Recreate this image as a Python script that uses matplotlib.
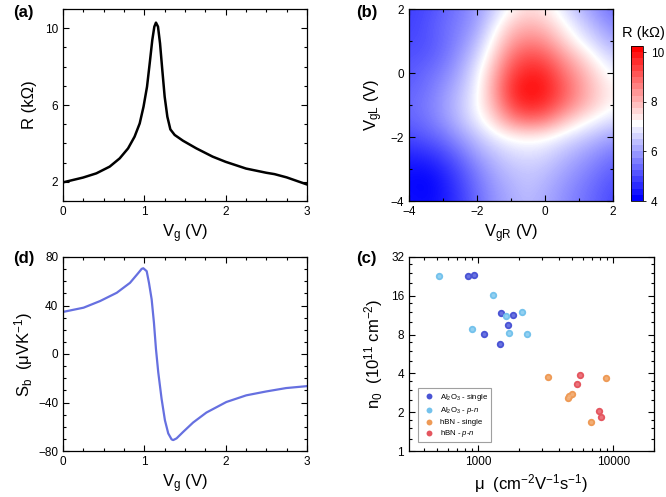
import numpy as np
import matplotlib
matplotlib.use("Agg")
import matplotlib.pyplot as plt
from matplotlib.colors import BoundaryNorm, Normalize
from matplotlib.cm import ScalarMappable
from matplotlib.ticker import MultipleLocator, LogLocator, FixedLocator, NullFormatter

plt.rcParams['font.family'] = ['Liberation Sans', 'DejaVu Sans']
plt.rcParams['mathtext.fontset'] = 'custom'
plt.rcParams['mathtext.rm'] = 'Liberation Sans'
plt.rcParams['mathtext.it'] = 'Liberation Sans:italic'
plt.rcParams['mathtext.bf'] = 'Liberation Sans:bold'

# (a) resistance vs gate voltage
vg_a = [0.0, 0.246, 0.41, 0.574, 0.697, 0.80, 0.88, 0.943, 0.99, 1.033, 1.066,
        1.098, 1.123, 1.143, 1.168, 1.193, 1.221, 1.25, 1.283, 1.32, 1.373,
        1.475, 1.64, 1.84, 2.0, 2.25, 2.5, 2.6, 2.75, 3.0]
r_a = [1.97, 2.22, 2.44, 2.79, 3.22, 3.74, 4.35, 5.04, 5.91, 6.95, 8.17,
       9.39, 10.08, 10.29, 10.08, 9.21, 7.82, 6.43, 5.39, 4.73, 4.44,
       4.14, 3.74, 3.31, 3.04, 2.69, 2.47, 2.40, 2.23, 1.86]

# (d) thermopower vs gate voltage
vg_d = [0.0, 0.253, 0.457, 0.661, 0.824, 0.927, 0.967, 0.988, 1.029, 1.057, 1.09,
        1.118, 1.143, 1.171, 1.212, 1.253, 1.294, 1.335, 1.355, 1.396, 1.478,
        1.6, 1.763, 2.008, 2.253, 2.498, 2.743, 3.0]
sb_d = [34.7, 38.2, 43.7, 50.5, 58.7, 66.9, 70.2, 70.7, 68.3, 58.7, 45.1,
        25.9, 4.1, -15.0, -36.9, -54.6, -65.5, -70.4, -71.0, -69.6, -64.2,
        -56.5, -48.3, -39.6, -34.1, -30.9, -28.1, -26.5]

# (b) resistance map, rows VgL = 2 ... -4, columns VgR = -4 ... 2 (step 0.5)
r_map = np.array([
    [4.8, 4.9, 5.2, 5.5, 5.9, 6.5, 7.2, 7.6, 7.4, 6.9, 6.3, 5.8, 5.4],
    [4.8, 5.0, 5.3, 5.6, 6.0, 6.9, 7.8, 8.1, 7.9, 7.3, 6.7, 6.2, 5.7],
    [4.9, 5.0, 5.3, 5.7, 6.3, 7.3, 8.3, 8.7, 8.5, 7.8, 7.1, 6.6, 6.1],
    [5.0, 5.1, 5.4, 5.9, 6.6, 7.7, 8.9, 9.4, 9.2, 8.5, 7.8, 7.1, 6.6],
    [5.1, 5.3, 5.6, 6.1, 6.9, 8.1, 9.4, 9.9, 9.8, 9.0, 8.3, 7.6, 7.0],
    [5.2, 5.4, 5.8, 6.3, 7.0, 8.3, 9.7, 10.2, 10.0, 9.3, 8.5, 7.8, 7.3],
    [5.3, 5.5, 5.9, 6.4, 7.1, 8.1, 9.4, 9.9, 9.7, 9.0, 8.3, 7.7, 7.2],
    [5.2, 5.4, 5.8, 6.3, 6.9, 7.6, 8.5, 8.9, 8.7, 8.0, 7.4, 7.0, 6.7],
    [4.9, 5.1, 5.4, 5.9, 6.4, 6.9, 7.2, 7.3, 7.2, 6.9, 6.6, 6.3, 6.0],
    [4.5, 4.6, 4.9, 5.4, 6.0, 6.4, 6.7, 6.8, 6.7, 6.4, 6.1, 5.8, 5.5],
    [4.2, 4.2, 4.5, 5.0, 5.6, 6.1, 6.4, 6.5, 6.4, 6.1, 5.8, 5.5, 5.2],
    [4.1, 4.0, 4.3, 4.8, 5.4, 5.9, 6.2, 6.4, 6.2, 5.9, 5.6, 5.3, 5.0],
    [4.2, 4.1, 4.3, 4.7, 5.3, 5.8, 6.1, 6.3, 6.1, 5.8, 5.5, 5.2, 4.9],
])

# (c) residual density vs mobility
mu_al_single = [845, 930, 1482, 1833, 1658, 1119, 1465]
n0_al_single = [22.6, 23.0, 11.7, 11.3, 9.5, 8.05, 6.77]
mu_al_pn = [513, 1287, 2123, 1621, 909, 1694, 2321]
n0_al_pn = [22.9, 16.1, 11.9, 11.1, 8.86, 8.19, 8.1]
mu_hbn_single = [3290, 8890, 4954, 4741, 4658, 6822]
n0_hbn_single = [3.77, 3.66, 2.79, 2.68, 2.57, 1.67]
mu_hbn_pn = [5700, 5390, 7906, 8078]
n0_hbn_pn = [3.88, 3.30, 2.06, 1.83]

W, H = 666, 497
fig = plt.figure(figsize=(W / 100, H / 100), dpi=100)


def box(l, t, r, b):
    return [l / W, 1 - b / H, (r - l) / W, (b - t) / H]


def style(ax):
    ax.tick_params(which='both', direction='in', top=True, right=True,
                   labelsize=8.5, width=0.8)
    ax.tick_params(which='major', length=4)
    ax.tick_params(which='minor', length=2)
    for s in ax.spines.values():
        s.set_linewidth(0.9)


lab_fs = 12

# (a)
ax_a = fig.add_axes(box(63, 9, 307, 201))
ax_a.plot(vg_a, r_a, color='black', lw=1.8, solid_joinstyle='round')
ax_a.set_xlim(0, 3)
ax_a.set_ylim(1, 11)
ax_a.xaxis.set_major_locator(MultipleLocator(1))
ax_a.xaxis.set_minor_locator(MultipleLocator(0.25))
ax_a.yaxis.set_major_locator(FixedLocator([2, 6, 10]))
ax_a.yaxis.set_minor_locator(MultipleLocator(1))
style(ax_a)
ax_a.set_xlabel(r'V$_\mathrm{g}$ (V)', fontsize=lab_fs, labelpad=3)
ax_a.set_ylabel('R (kΩ)', fontsize=lab_fs, labelpad=6)

# (b) smooth map, banded colour scale on the bar
ax_b = fig.add_axes(box(409, 9, 613, 201))
ax_b.imshow(r_map, cmap='bwr', norm=Normalize(4, 10.3), interpolation='bicubic',
            extent=[-4.25, 2.25, -4.25, 2.25], origin='upper', aspect='auto')
ax_b.set_xlim(-4, 2)
ax_b.set_ylim(-4, 2)
ax_b.xaxis.set_major_locator(MultipleLocator(2))
ax_b.xaxis.set_minor_locator(MultipleLocator(1))
ax_b.yaxis.set_major_locator(MultipleLocator(2))
ax_b.yaxis.set_minor_locator(MultipleLocator(1))
style(ax_b)
ax_b.set_xlabel(r'V$_\mathrm{gR}$ (V)', fontsize=lab_fs, labelpad=3)
ax_b.set_ylabel(r'V$_\mathrm{gL}$ (V)', fontsize=lab_fs, labelpad=4)

levels = np.arange(4, 10.36, 0.25)
sm = ScalarMappable(norm=BoundaryNorm(levels, ncolors=256), cmap='bwr')
cax = fig.add_axes(box(631, 46, 643, 201))
cb = fig.colorbar(sm, cax=cax, ticks=[4, 6, 8, 10])
cb.outline.set_linewidth(0.6)
cax.tick_params(labelsize=8.5, length=2, width=0.6)
cb.ax.minorticks_off()
fig.text(643 / W, 1 - 33 / H, 'R (kΩ)', fontsize=10.5, ha='center', va='center')

# (d)
ax_d = fig.add_axes(box(63, 257, 307, 451))
ax_d.plot(vg_d, sb_d, color='#6670e0', lw=1.6, solid_joinstyle='round')
ax_d.set_xlim(0, 3)
ax_d.set_ylim(-80, 80)
ax_d.xaxis.set_major_locator(MultipleLocator(1))
ax_d.xaxis.set_minor_locator(MultipleLocator(0.25))
ax_d.yaxis.set_major_locator(MultipleLocator(40))
ax_d.yaxis.set_minor_locator(MultipleLocator(10))
style(ax_d)
ax_d.set_xlabel(r'V$_\mathrm{g}$ (V)', fontsize=lab_fs, labelpad=3)
ax_d.set_ylabel(r'S$_\mathrm{b}$  (μVK$^{-1}$)', fontsize=lab_fs, labelpad=2)

# (c)
ax_c = fig.add_axes(box(409, 257, 654, 451))
groups = [
    (mu_al_single, n0_al_single, '#4a54d4', '#7f88ea', r'Al$_\mathrm{2}$O$_\mathrm{3}$ - single'),
    (mu_al_pn, n0_al_pn, '#74c2ec', '#a8daf6', r'Al$_\mathrm{2}$O$_\mathrm{3}$ - $\mathit{p}$-$\mathit{n}$'),
    (mu_hbn_single, n0_hbn_single, '#ee9a56', '#f6bc8c', 'hBN - single'),
    (mu_hbn_pn, n0_hbn_pn, '#e4565f', '#f08890', r'hBN - $\mathit{p}$-$\mathit{n}$'),
]
for mu, n0, col, light, lab in groups:
    ax_c.scatter(mu, n0, s=28, color=col, linewidths=0, label=lab, zorder=3)
    # soft lighter core gives the markers a shaded look
    ax_c.scatter(mu, n0, s=7, color=light, linewidths=0, alpha=0.6, zorder=4)
ax_c.set_xscale('log')
ax_c.set_yscale('log', base=2)
ax_c.set_xlim(310, 20000)
ax_c.set_ylim(1, 32)
ax_c.xaxis.set_major_locator(FixedLocator([1000, 10000]))
ax_c.xaxis.set_major_formatter(plt.FuncFormatter(lambda v, p: f'{int(v)}'))
ax_c.xaxis.set_minor_locator(LogLocator(base=10, subs=np.arange(2, 10)))
ax_c.xaxis.set_minor_formatter(NullFormatter())
ax_c.yaxis.set_major_locator(FixedLocator([1, 2, 4, 8, 16, 32]))
ax_c.yaxis.set_major_formatter(plt.FuncFormatter(lambda v, p: f'{int(v)}'))
ax_c.yaxis.set_minor_locator(LogLocator(base=2, subs=[1.25, 1.5, 1.75]))
ax_c.yaxis.set_minor_formatter(NullFormatter())
style(ax_c)
ax_c.set_xlabel(r'μ  (cm$^{-2}$V$^{-1}$s$^{-1}$)', fontsize=lab_fs, labelpad=3)
ax_c.set_ylabel(r'n$_\mathrm{0}$  (10$^{11}$ cm$^{-2}$)', fontsize=lab_fs, labelpad=4)
leg = ax_c.legend(loc='lower left', fontsize=5.6, frameon=True, fancybox=False,
                  borderpad=0.4, labelspacing=0.3, handletextpad=0.4,
                  markerscale=0.8, borderaxespad=0, bbox_to_anchor=(0.037, 0.046))
leg.get_frame().set_edgecolor('#888888')
leg.get_frame().set_linewidth(0.8)

# panel letters
for x, y, t in [(13, 13, '(a)'), (356, 13, '(b)'), (13, 258, '(d)'), (356, 258, '(c)')]:
    fig.text(x / W, 1 - y / H, t, fontsize=12, fontweight='bold', va='center', ha='left')

fig.savefig('out.png', dpi=100)
